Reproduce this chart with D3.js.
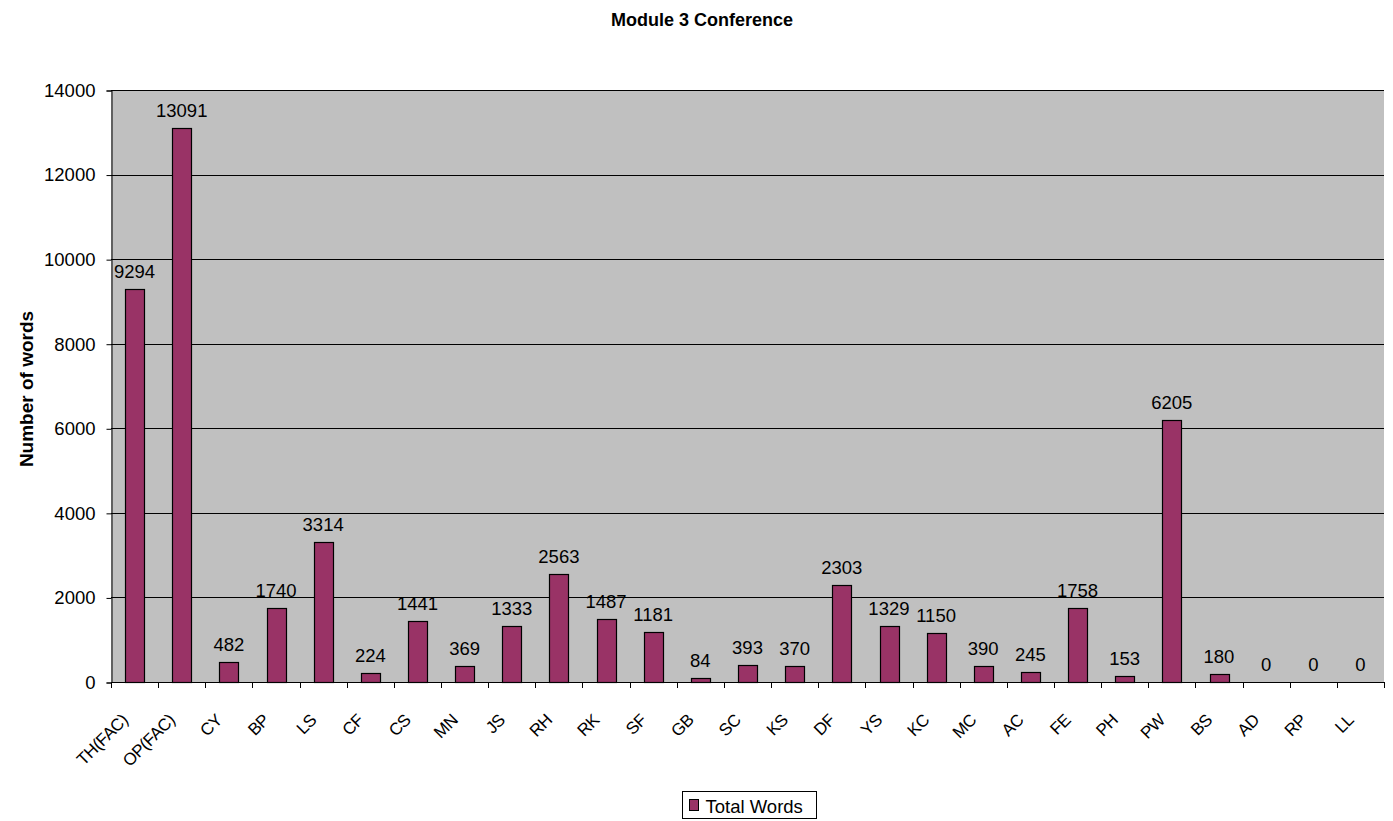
<!DOCTYPE html>
<html>
<head>
<meta charset="utf-8">
<script src="https://cdn.jsdelivr.net/npm/d3@7"></script>
<style>
  html, body { margin: 0; padding: 0; background: #fff; }
  svg { display: block; font-family: "Liberation Sans", Arial, sans-serif; }
</style>
</head>
<body>
<svg id="chart" width="1393" height="821"></svg>
<script>
// Participants and their word counts
const categories = ["TH(FAC)", "OP(FAC)", "CY", "BP", "LS", "CF", "CS", "MN", "JS", "RH",
  "RK", "SF", "GB", "SC", "KS", "DF", "YS", "KC", "MC", "AC", "FE", "PH", "PW", "BS",
  "AD", "RP", "LL"];
const totalWords = [9294, 13091, 482, 1740, 3314, 224, 1441, 369, 1333, 2563,
  1487, 1181, 84, 393, 370, 2303, 1329, 1150, 390, 245, 1758, 153, 6205, 180,
  0, 0, 0];
const yTicks = [0, 2000, 4000, 6000, 8000, 10000, 12000, 14000];

const svg = d3.select("#chart");
const plot = { left: 111, right: 1384, top: 90, bottom: 682 };
const labelSize = 18.5;

const x = d3.scaleBand()
  .domain(categories)
  .range([plot.left, plot.right])
  .paddingInner(0.6)
  .paddingOuter(0.3);
const xOuter = d3.scaleBand().domain(categories).range([plot.left, plot.right]);
const y = d3.scaleLinear().domain([0, 14000]).range([plot.bottom, plot.top]);

// Plot background
svg.append("rect")
  .attr("x", plot.left).attr("y", plot.top)
  .attr("width", plot.right - plot.left).attr("height", plot.bottom - plot.top)
  .attr("fill", "#c0c0c0");

// Horizontal grid lines
svg.append("g").selectAll("line").data(yTicks.filter(d => d > 0)).join("line")
  .attr("x1", plot.left).attr("x2", plot.right)
  .attr("y1", d => Math.round(y(d)) + 0.5).attr("y2", d => Math.round(y(d)) + 0.5)
  .attr("stroke", "#000").attr("stroke-width", 1);

// Y axis
const yAxis = svg.append("g")
  .attr("transform", `translate(${plot.left + 0.5},0.5)`)
  .call(d3.axisLeft(y).tickValues(yTicks).tickFormat(d3.format("d")).tickSizeOuter(0).tickSize(5).tickPadding(11));
yAxis.select(".domain").attr("stroke", "#000");
yAxis.selectAll("text").attr("font-size", labelSize).attr("fill", "#000")
  .attr("font-family", "Liberation Sans, Arial, sans-serif");

// X axis baseline with tick marks between categories
const xAxisG = svg.append("g");
xAxisG.append("line")
  .attr("x1", plot.left).attr("x2", plot.right)
  .attr("y1", plot.bottom + 0.5).attr("y2", plot.bottom + 0.5)
  .attr("stroke", "#000");
const boundaries = categories.map(c => xOuter(c)).concat([plot.right]);
xAxisG.selectAll("line.tick").data(boundaries).join("line")
  .attr("class", "tick")
  .attr("x1", d => Math.round(d) + 0.5).attr("x2", d => Math.round(d) + 0.5)
  .attr("y1", plot.bottom).attr("y2", plot.bottom + 6)
  .attr("stroke", "#000");

// Rotated category labels
xAxisG.selectAll("text").data(categories).join("text")
  .attr("transform", d => `translate(${xOuter(d) + xOuter.bandwidth() / 2 - 10},${plot.bottom + 35}) rotate(-45)`)
  .attr("text-anchor", "end")
  .attr("dy", "0.35em")
  .attr("font-size", 17)
  .attr("letter-spacing", -0.5)
  .text(d => d);

// Bars
svg.append("g").selectAll("rect").data(totalWords).join("rect")
  .attr("x", (d, i) => Math.round(x(categories[i])) + 0.5)
  .attr("y", d => Math.round(y(d)) + 0.5)
  .attr("width", Math.round(x.bandwidth()))
  .attr("height", d => Math.round(y(0)) - Math.round(y(d)))
  .attr("fill", "#993366")
  .attr("stroke", "#000")
  .attr("stroke-width", 1.2);

// Value labels
svg.append("g").selectAll("text").data(totalWords).join("text")
  .attr("x", (d, i) => x(categories[i]) + x.bandwidth() / 2)
  .attr("y", d => y(d) - 11)
  .attr("text-anchor", "middle")
  .attr("font-size", labelSize)
  .text(d => d);

// Title
svg.append("text")
  .attr("x", 702).attr("y", 26)
  .attr("text-anchor", "middle")
  .attr("font-size", 18).attr("font-weight", "bold")
  .text("Module 3 Conference");

// Y axis title
svg.append("text")
  .attr("transform", `translate(33,389) rotate(-90)`)
  .attr("text-anchor", "middle")
  .attr("font-size", 19).attr("font-weight", "bold")
  .text("Number of words");

// Legend
const legend = svg.append("g").attr("transform", "translate(682.5,791.5)");
legend.append("rect").attr("width", 134).attr("height", 27)
  .attr("fill", "#fff").attr("stroke", "#000");
legend.append("rect").attr("x", 7).attr("y", 8).attr("width", 9).attr("height", 11)
  .attr("fill", "#993366").attr("stroke", "#000");
legend.append("text").attr("x", 23).attr("y", 21)
  .attr("font-size", labelSize).text("Total Words");
</script>
</body>
</html>
